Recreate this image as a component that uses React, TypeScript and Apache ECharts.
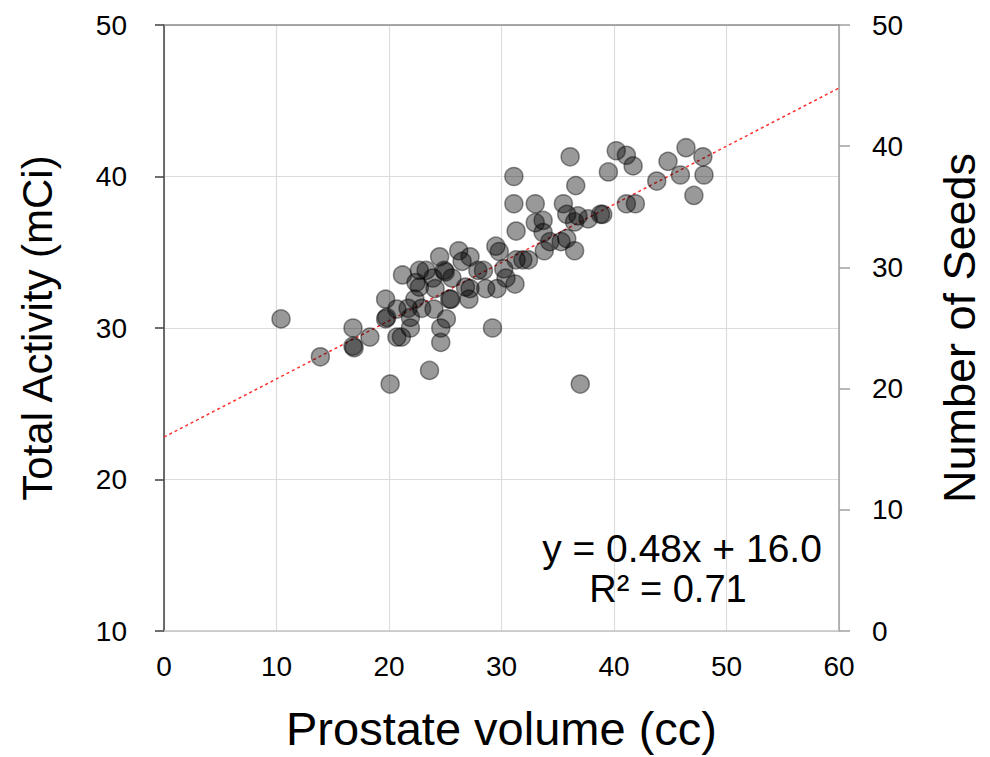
import React, { useEffect, useRef } from "react";
import * as echarts from "echarts";

// Prostate volume (cc)
const volume: number[] = [
  10.4, 13.9, 16.8, 16.8, 16.9, 18.3, 19.7, 19.7, 19.8, 20.1, 20.7, 21.1, 21.2, 20.7, 21.9, 21.9,
  21.7, 22.3, 22.7, 22.7, 23.3, 22.9, 23.6, 23.9, 24.1, 24.5, 24.9, 25.0, 24.0, 24.6, 24.6, 25.1,
  25.5, 25.6, 26.2, 26.5, 27.2, 26.8, 27.2, 27.1, 27.9, 28.4, 28.6, 29.2, 29.5, 29.8, 29.6, 30.2,
  30.4, 31.1, 31.1, 31.3, 31.2, 31.3, 31.9, 32.4, 33.0, 33.0, 33.7, 33.7, 33.8, 34.3, 35.3, 35.5,
  35.8, 35.8, 36.1, 36.5, 36.6, 36.5, 36.8, 37.0, 37.7, 38.8, 39.0, 39.5, 40.2, 41.1, 41.1, 41.7,
  41.9, 43.8, 44.8, 45.9, 46.4, 47.1, 47.9, 48.0, 25.4, 22.4,
];

// Total Activity (mCi)
const activity: number[] = [
  30.6, 28.1, 30.0, 28.8, 28.7, 29.4, 31.9, 30.6, 30.7, 26.3, 29.4, 29.4, 33.5, 31.25, 30.0, 30.7,
  31.3, 31.9, 32.7, 33.8, 33.8, 31.3, 27.2, 33.3, 32.6, 34.7, 33.8, 33.7, 31.25, 30.0, 29.05, 30.6,
  31.9, 33.3, 35.1, 34.4, 34.7, 32.7, 32.6, 31.9, 33.8, 33.8, 32.6, 30.0, 35.4, 35.05, 32.6, 33.9,
  33.3, 40.0, 38.2, 36.4, 32.9, 34.5, 34.5, 34.5, 38.2, 36.95, 37.1, 36.3, 35.1, 35.7, 35.7, 38.2,
  37.5, 35.9, 41.3, 35.1, 39.4, 37.0, 37.4, 26.3, 37.2, 37.5, 37.5, 40.3, 41.7, 41.4, 38.2, 40.7,
  38.2, 39.7, 41.0, 40.1, 41.9, 38.75, 41.3, 40.1, 31.9, 33.0,
];

// Trend line endpoints (Number of Seeds): y = 0.48x + 16.0
const trendX: number[] = [0, 60];
const trendY: number[] = [16.0, 44.8];

const xTicks = { min: 0, max: 60, interval: 10 };
const leftTicks = { min: 10, max: 50, interval: 10 };
const rightTicks = { min: 0, max: 50, interval: 10 };

const eqText = "y = 0.48x + 16.0";
const r2Text = "R\u00B2 = 0.71";

const FONT = "'Liberation Sans', Arial, sans-serif";

export default function App() {
  const ref = useRef<HTMLDivElement | null>(null);

  useEffect(() => {
    if (!ref.current) return;
    const chart = echarts.init(ref.current, undefined, { renderer: "svg" });
    const points = volume.map((v, i) => [v, activity[i]]);
    const trend = trendX.map((v, i) => [v, trendY[i]]);

    chart.setOption({
      animation: false,
      backgroundColor: "#ffffff",
      textStyle: { fontFamily: FONT },
      grid: { left: 164, right: 148, top: 25, bottom: 121 },
      xAxis: [
        {
          type: "value",
          position: "bottom",
          ...xTicks,
          name: "Prostate volume (cc)",
          nameLocation: "middle",
          nameGap: 74,
          nameTextStyle: { fontSize: 47, color: "#000", fontFamily: FONT },
          axisLine: { show: true, onZero: false, lineStyle: { color: "#c4c4c4", width: 1.5 } },
          axisTick: { show: false },
          axisLabel: { fontSize: 28, color: "#000", margin: 21, fontFamily: FONT },
          splitLine: { show: true, lineStyle: { color: "#dcdcdc", width: 1.2 } },
        },
        {
          type: "value",
          position: "top",
          ...xTicks,
          axisLine: { show: true, onZero: false, lineStyle: { color: "#8c8c8c", width: 1.5 } },
          axisTick: { show: false },
          axisLabel: { show: false },
          splitLine: { show: false },
        },
      ],
      yAxis: [
        {
          type: "value",
          position: "left",
          ...leftTicks,
          name: "Total Activity (mCi)",
          nameLocation: "middle",
          nameGap: 106,
          nameTextStyle: { fontSize: 42, color: "#000", fontFamily: FONT },
          axisLine: { show: true, onZero: false, lineStyle: { color: "#404040", width: 1.5 } },
          axisTick: { show: true, inside: false, length: 9, lineStyle: { color: "#404040", width: 1.5 } },
          axisLabel: { fontSize: 28, color: "#000", margin: 37, fontFamily: FONT },
          splitLine: { show: true, lineStyle: { color: "#dcdcdc", width: 1.2 } },
        },
        {
          type: "value",
          position: "right",
          ...rightTicks,
          name: "Number of Seeds",
          nameLocation: "middle",
          nameGap: 98,
          nameTextStyle: { fontSize: 45, color: "#000", fontFamily: FONT },
          axisLine: { show: true, onZero: false, lineStyle: { color: "#a0a0a0", width: 1.5 } },
          axisTick: { show: true, inside: false, length: 11, lineStyle: { color: "#a0a0a0", width: 1.5 } },
          axisLabel: { fontSize: 28, color: "#000", margin: 33, fontFamily: FONT },
          splitLine: { show: false },
        },
      ],
      series: [
        {
          type: "line",
          xAxisIndex: 0,
          yAxisIndex: 1,
          data: trend,
          symbol: "none",
          lineStyle: { color: "#ff3030", width: 1.5, type: [3, 3] },
          z: 3,
        },
        {
          type: "scatter",
          xAxisIndex: 0,
          yAxisIndex: 0,
          data: points,
          symbol: "circle",
          symbolSize: 18,
          itemStyle: {
            color: "rgba(0,0,0,0.5)",
            borderColor: "rgba(0,0,0,0.55)",
            borderWidth: 1.5,
          },
          z: 4,
        },
      ],
      graphic: [
        {
          type: "text",
          x: 682,
          y: 548,
          style: {
            text: eqText,
            fontSize: 39,
            fontFamily: FONT,
            fill: "#000",
            textAlign: "center",
            textVerticalAlign: "middle",
          },
          z: 10,
        },
        {
          type: "text",
          x: 668,
          y: 589,
          style: {
            text: r2Text,
            fontSize: 38,
            fontFamily: FONT,
            fill: "#000",
            textAlign: "center",
            textVerticalAlign: "middle",
          },
          z: 10,
        },
      ],
    });

    return () => {
      chart.dispose();
    };
  }, []);

  return (
    <div
      ref={ref}
      style={{ position: "fixed", left: 0, top: 0, width: 990, height: 757 }}
    />
  );
}
